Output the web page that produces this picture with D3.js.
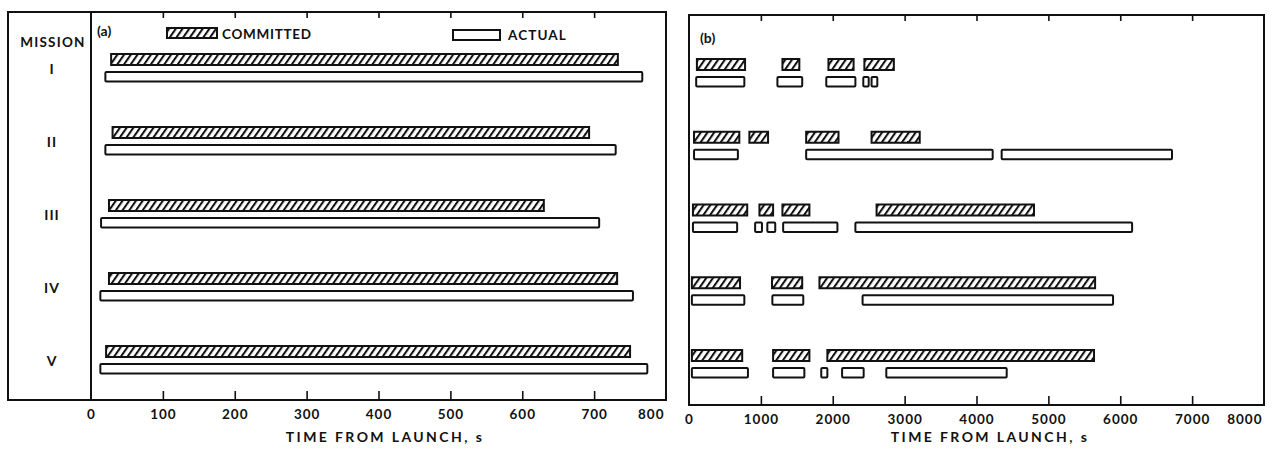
<!DOCTYPE html>
<html>
<head>
<meta charset="utf-8">
<script src="https://cdn.jsdelivr.net/npm/d3@7"></script>
<style>
  html, body { margin: 0; padding: 0; background: #fff; }
  svg { display: block; font-family: Lato, "Open Sans", sans-serif; font-weight: 700; }
</style>
</head>
<body>
<svg id="chart" width="1272" height="451"></svg>
<script>
// Mission identifiers (rows)
const missions = ["I", "II", "III", "IV", "V"];

// (a) Launch phase, seconds from launch: [start, end]
const launchCommitted = [[28, 733], [30, 693], [25, 630], [25, 732], [21, 750]];
const launchActual    = [[20, 767], [20, 730], [14, 707], [13, 754], [13, 774]];
const launchTicks = [0, 100, 200, 300, 400, 500, 600, 700, 800];

// (b) Later coverage periods, seconds from launch: list of [start, end] per mission
const orbitCommitted = [
  [[110, 780], [1300, 1535], [1940, 2290], [2440, 2850]],
  [[70, 700], [840, 1100], [1630, 2080], [2540, 3210]],
  [[55, 810], [980, 1170], [1300, 1675], [2610, 4800]],
  [[40, 710], [1155, 1575], [1815, 5650]],
  [[40, 740], [1170, 1675], [1925, 5635]]
];
const orbitActual = [
  [[100, 770], [1230, 1575], [1910, 2315], [2425, 2500], [2540, 2620]],
  [[70, 680], [1630, 4225], [4350, 6720]],
  [[55, 670], [920, 1015], [1090, 1200], [1310, 2065], [2315, 6165]],
  [[40, 770], [1160, 1590], [2415, 5900]],
  [[40, 820], [1170, 1605], [1840, 1925], [2130, 2430], [2745, 4420]]
];
const orbitTicks = [0, 1000, 2000, 3000, 4000, 5000, 6000, 7000, 8000];

const axisTitle = "TIME FROM LAUNCH, s";

const svg = d3.select("#chart");
const ink = "#111";

// Diagonal hatching for committed periods
svg.append("defs").append("pattern")
  .attr("id", "hatch")
  .attr("patternUnits", "userSpaceOnUse")
  .attr("width", 5.5).attr("height", 10)
  .attr("patternTransform", "rotate(35)")
  .append("line")
  .attr("x1", 1).attr("y1", 0).attr("x2", 1).attr("y2", 10)
  .attr("stroke", ink).attr("stroke-width", 2.1);

function drawPanel(cfg) {
  const g = svg.append("g");
  const x = d3.scaleLinear().domain(cfg.domain).range([cfg.x0, cfg.x1]);
  const y = d3.scalePoint().domain(missions).range([cfg.yFirst, cfg.yLast]);

  // frame
  g.append("rect")
    .attr("x", cfg.frameLeft).attr("y", cfg.top)
    .attr("width", cfg.x1 - cfg.frameLeft).attr("height", cfg.bottom - cfg.top)
    .attr("fill", "none").attr("stroke", ink).attr("stroke-width", 2);

  // bottom axis: ticks point inward, labels below
  const bottomAxis = d3.axisBottom(x).tickValues(cfg.ticks)
    .tickSizeInner(-9).tickSizeOuter(0).tickPadding(9)
    .tickFormat(d3.format("d"));
  const ba = g.append("g").attr("transform", `translate(0,${cfg.bottom})`).call(bottomAxis);
  ba.select(".domain").remove();
  ba.selectAll(".tick line").attr("stroke", ink).attr("stroke-width", 1.6);
  ba.selectAll(".tick text")
    .attr("fill", ink)
    .style("font-size", cfg.tickFont + "px")
    .style("font-family", "Lato, sans-serif")
    .style("font-weight", 700)
    .style("letter-spacing", "1px");
  ba.selectAll(".tick").filter(d => d === cfg.domain[1]).select("text")
    .attr("text-anchor", "end").attr("dx", -2);
  ba.selectAll(".tick").filter(d => d === cfg.domain[0] || d === cfg.domain[1]).select("line").remove();

  // top axis ticks, no labels
  const topAxis = d3.axisTop(x).tickValues(cfg.ticks.slice(1, -1))
    .tickSizeInner(-6).tickSizeOuter(0).tickFormat("");
  const ta = g.append("g").attr("transform", `translate(0,${cfg.top})`).call(topAxis);
  ta.select(".domain").remove();
  ta.selectAll(".tick line").attr("stroke", ink).attr("stroke-width", 1.6);

  // axis title
  g.append("text")
    .attr("x", cfg.titleX).attr("y", 442)
    .attr("text-anchor", "middle")
    .attr("fill", ink)
    .style("font-size", "14px")
    .style("letter-spacing", "2.4px")
    .text(axisTitle);

  // panel tag
  g.append("text")
    .attr("x", cfg.tagX).attr("y", cfg.tagY)
    .attr("fill", ink)
    .style("font-size", "14px")
    .text(cfg.tag);

  // bars
  const rows = missions.map((m, i) => ({ m, committed: cfg.committed[i], actual: cfg.actual[i] }));
  rows.forEach(r => {
    const cy = y(r.m);
    g.selectAll(null).data(r.committed).enter().append("rect")
      .attr("x", d => x(d[0]))
      .attr("y", cy - 14)
      .attr("width", d => x(d[1]) - x(d[0]))
      .attr("height", 11)
      .attr("fill", "url(#hatch)")
      .attr("stroke", ink).attr("stroke-width", 2);
    g.selectAll(null).data(r.actual).enter().append("rect")
      .attr("x", d => x(d[0]))
      .attr("y", cy + 4)
      .attr("width", d => x(d[1]) - x(d[0]))
      .attr("height", 9.5)
      .attr("fill", "#fff")
      .attr("stroke", ink).attr("stroke-width", 2)
      .attr("rx", 1);
  });
  return { x, y };
}

// Panel (a): launch phase
const pa = drawPanel({
  domain: [0, 800], x0: 91, x1: 666, frameLeft: 8,
  top: 12, bottom: 400, yFirst: 68, yLast: 360,
  ticks: launchTicks, tickFont: 13.5, titleX: 385,
  tag: "(a)", tagX: 97, tagY: 36,
  committed: launchCommitted.map(d => [d]),
  actual: launchActual.map(d => [d])
});

// mission column divider and labels
svg.append("line")
  .attr("x1", 91).attr("x2", 91).attr("y1", 12).attr("y2", 400)
  .attr("stroke", ink).attr("stroke-width", 2);
svg.append("text")
  .attr("x", 53).attr("y", 47).attr("text-anchor", "middle")
  .attr("fill", ink).style("font-size", "13.5px").style("letter-spacing", "1.2px")
  .text("MISSION");
svg.selectAll(".mission-label").data(missions).enter().append("text")
  .attr("class", "mission-label")
  .attr("x", 52).attr("y", d => pa.y(d) + 6)
  .attr("text-anchor", "middle")
  .attr("fill", ink).style("font-size", "14px").style("letter-spacing", "1px")
  .text(d => d);

// legend
const legend = svg.append("g");
legend.append("rect").attr("x", 167).attr("y", 28).attr("width", 50).attr("height", 10)
  .attr("fill", "url(#hatch)").attr("stroke", ink).attr("stroke-width", 2);
legend.append("text").attr("x", 222).attr("y", 39).attr("fill", ink)
  .style("font-size", "13.5px").style("letter-spacing", "0.7px").text("COMMITTED");
legend.append("rect").attr("x", 453).attr("y", 30).attr("width", 47).attr("height", 10)
  .attr("fill", "#fff").attr("stroke", ink).attr("stroke-width", 2);
legend.append("text").attr("x", 508).attr("y", 40).attr("fill", ink)
  .style("font-size", "13.5px").style("letter-spacing", "1.1px").text("ACTUAL");

// Panel (b): later periods
drawPanel({
  domain: [0, 8000], x0: 689, x1: 1264, frameLeft: 689,
  top: 15, bottom: 405, yFirst: 73, yLast: 364,
  ticks: orbitTicks, tickFont: 13.5, titleX: 990,
  tag: "(b)", tagX: 700, tagY: 43,
  committed: orbitCommitted,
  actual: orbitActual
});
</script>
</body>
</html>
